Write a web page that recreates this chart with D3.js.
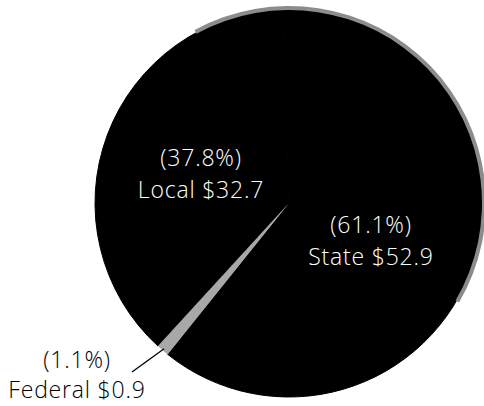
<!DOCTYPE html>
<html>
<head>
  <meta charset="utf-8">
  <title>Revenue by Source</title>
  <style>
    body { margin: 0; background: #fff; }
    text { font-family: "Open Sans", "DejaVu Sans", sans-serif; font-weight: 300; }
  </style>
</head>
<body>
  <script src="https://cdn.jsdelivr.net/npm/d3@7"></script>
  <script>
    // slices, clockwise from the top
    var sources = ["State", "Federal", "Local"];
    var amounts = [52.9, 0.9, 32.7];
    var percents = ["61.1%", "1.1%", "37.8%"];
    var fills = ["#000", "#a8a8a8", "#000"];

    var width = 484, height = 406;
    var cx = 289, cy = 203, radius = 194;

    var svg = d3.select("body").append("svg")
        .attr("width", width)
        .attr("height", height);

    var chart = svg.append("g")
        .attr("transform", "translate(" + cx + "," + cy + ")");

    var data = sources.map(function(s, i) {
      return { source: s, amount: amounts[i], pct: percents[i], fill: fills[i] };
    });

    var pie = d3.pie()
        .sort(null)
        .startAngle(-0.025)
        .endAngle(2 * Math.PI - 0.025)
        .value(function(d) { return d.amount; });

    var arc = d3.arc().innerRadius(0).outerRadius(radius);
    var arcs = pie(data);

    chart.selectAll(".slice")
        .data(arcs)
        .enter()
        .append("path")
        .attr("class", "slice")
        .attr("d", arc)
        .attr("fill", function(d) { return d.data.fill; })
        .attr("stroke", function(d) { return d.data.fill == "#000" ? "#000" : "none"; })
        .attr("stroke-width", 1);

    // redraw the federal sliver on top so the black strokes don't eat it
    chart.append("path")
        .attr("d", arc(arcs[1]))
        .attr("fill", fills[1]);

    // grey scanned rim along the upper right edge
    chart.append("path")
        .attr("d", d3.arc()
          .innerRadius(radius - 1)
          .outerRadius(radius + 3)
          .startAngle(-0.5)
          .endAngle(2.1)())
        .attr("fill", "#8c8c8c");

    // label positions in page pixels
    var labelPos = {
      State:   { x: 371, y1: 233, y2: 265, color: "#fff" },
      Federal: { x: 77,  y1: 368, y2: 398, color: "#000" },
      Local:   { x: 201, y1: 166, y2: 198, color: "#fff" }
    };

    var labels = svg.selectAll(".label")
        .data(data)
        .enter()
        .append("g")
        .attr("class", "label");

    labels.append("text")
        .attr("x", function(d) { return labelPos[d.source].x; })
        .attr("y", function(d) { return labelPos[d.source].y1; })
        .attr("text-anchor", "middle")
        .attr("font-size", 23)
        .attr("letter-spacing", 0.8)
        .attr("fill", function(d) { return labelPos[d.source].color; })
        .text(function(d) { return "(" + d.pct + ")"; });

    labels.append("text")
        .attr("x", function(d) { return labelPos[d.source].x; })
        .attr("y", function(d) { return labelPos[d.source].y2; })
        .attr("text-anchor", "middle")
        .attr("font-size", 23)
        .attr("letter-spacing", 0.8)
        .attr("fill", function(d) { return labelPos[d.source].color; })
        .text(function(d) { return d.source + " $" + d.amount; });

    // leader line from the federal label to its slice
    var fed = arcs[1];
    var mid = (fed.startAngle + fed.endAngle) / 2;
    var edge = [Math.sin(mid) * (radius - 2) + cx, -Math.cos(mid) * (radius - 2) + cy];
    svg.append("line")
        .attr("x1", 132).attr("y1", 372)
        .attr("x2", edge[0]).attr("y2", edge[1])
        .attr("stroke", "#000")
        .attr("stroke-width", 1.3);
  </script>
</body>
</html>
